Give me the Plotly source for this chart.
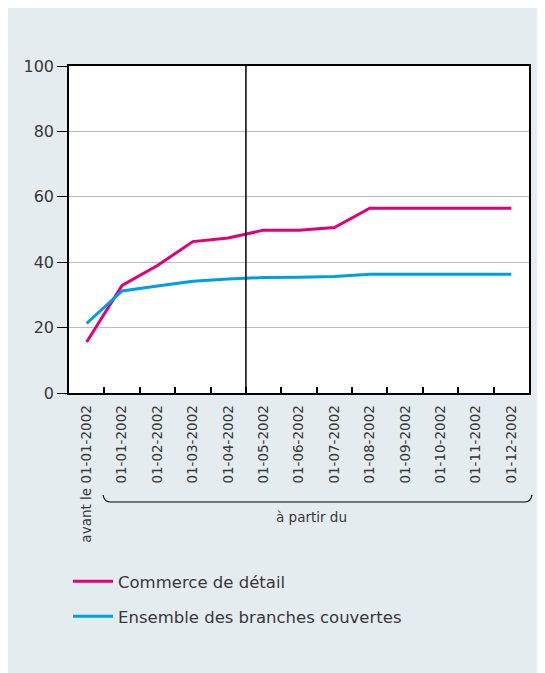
import plotly.graph_objects as go

# Categories (x axis)
periods = [
    "avant le 01-01-2002",
    "01-01-2002", "01-02-2002", "01-03-2002", "01-04-2002",
    "01-05-2002", "01-06-2002", "01-07-2002", "01-08-2002",
    "01-09-2002", "01-10-2002", "01-11-2002", "01-12-2002",
]

# Series values (%)
commerce_detail = [15.6, 32.9, 39.0, 46.3, 47.4, 49.8, 49.8, 50.6, 56.5, 56.5, 56.5, 56.5, 56.5]
ensemble_branches = [21.3, 31.2, 32.7, 34.2, 34.9, 35.3, 35.4, 35.6, 36.3, 36.3, 36.3, 36.3, 36.3]

series_names = ["Commerce de détail", "Ensemble des branches couvertes"]
series_colors = ["#e2007a", "#009fe3"]

y_ticks = [0, 20, 40, 60, 80, 100]

# Figure geometry (px); the page body adds an 8px offset
W, H = 545, 673
OFF = 8
ml, mr, mt, mb = 61, 24, 58, 288
pw = W - ml - mr
ph = H - mt - mb


def px_x(p):
    # screenshot x -> paper x
    return (p - OFF - ml) / pw


def px_y(p):
    # screenshot y -> paper y
    return (H - mb - (p - OFF)) / ph


text_color = "#383838"
font_family = "DejaVu Sans, Liberation Sans, sans-serif"
panel_color = "#e5ecef"

fig = go.Figure()

fig.add_trace(go.Scatter(
    x=periods, y=commerce_detail, mode="lines", name=series_names[0],
    line=dict(color=series_colors[0], width=3), legend="legend", showlegend=True,
))
fig.add_trace(go.Scatter(
    x=periods, y=ensemble_branches, mode="lines", name=series_names[1],
    line=dict(color=series_colors[1], width=3), legend="legend2", showlegend=True,
))

shapes = [
    # separator between "avant" and "à partir du"
    dict(type="line", xref="x", yref="paper", x0=4.5, x1=4.5, y0=0, y1=1,
         line=dict(color="black", width=1.5)),
]

# brace under the "à partir du" labels
bx0, bx1 = px_x(103), px_x(532)
by0, by1 = px_y(495), px_y(502)
dx = px_x(110) - px_x(103)
brace = (f"M{bx0},{by0} Q{bx0 + dx * 0.2},{by1} {bx0 + dx},{by1} "
         f"L{bx1 - dx},{by1} Q{bx1 - dx * 0.2},{by1} {bx1},{by0}")
shapes.append(dict(type="path", xref="paper", yref="paper", path=brace,
                   line=dict(color="black", width=1.2)))

fig.update_layout(
    width=W, height=H,
    margin=dict(l=ml, r=mr, t=mt, b=mb),
    paper_bgcolor=panel_color,
    plot_bgcolor="white",
    showlegend=True,
    font=dict(family=font_family, color=text_color),
    shapes=shapes,
    annotations=[dict(text="à partir du", xref="paper", yref="paper",
                      x=px_x(311), y=px_y(517), xanchor="center", yanchor="middle",
                      showarrow=False, font=dict(size=13.5, color=text_color))],
    xaxis=dict(
        type="category", range=[-0.5, 12.5],
        tickson="boundaries", ticks="inside", ticklen=6, tickwidth=1.5, tickcolor="black",
        tickangle=-90, tickfont=dict(size=13.5, color=text_color),
        ticklabelstandoff=5,
        showline=True, linecolor="black", linewidth=1.5, mirror=True,
        showgrid=False, zeroline=False,
    ),
    yaxis=dict(
        range=[0, 100], tickvals=y_ticks,
        ticks="outside", ticklen=10, tickwidth=1.2, tickcolor="black",
        tickfont=dict(size=16, color=text_color), ticklabelstandoff=0,
        showline=True, linecolor="black", linewidth=1.5, mirror=True,
        showgrid=True, gridcolor="#bcbcbc", gridwidth=1, zeroline=False,
    ),
    legend=dict(x=px_x(68), y=px_y(564), xanchor="left", yanchor="top",
                bgcolor="rgba(0,0,0,0)", font=dict(size=16.5, color=text_color),
                itemwidth=40),
    legend2=dict(x=px_x(68), y=px_y(599), xanchor="left", yanchor="top",
                 bgcolor="rgba(0,0,0,0)", font=dict(size=16.5, color=text_color),
                 itemwidth=40),
)

fig.write_html("out.html")
